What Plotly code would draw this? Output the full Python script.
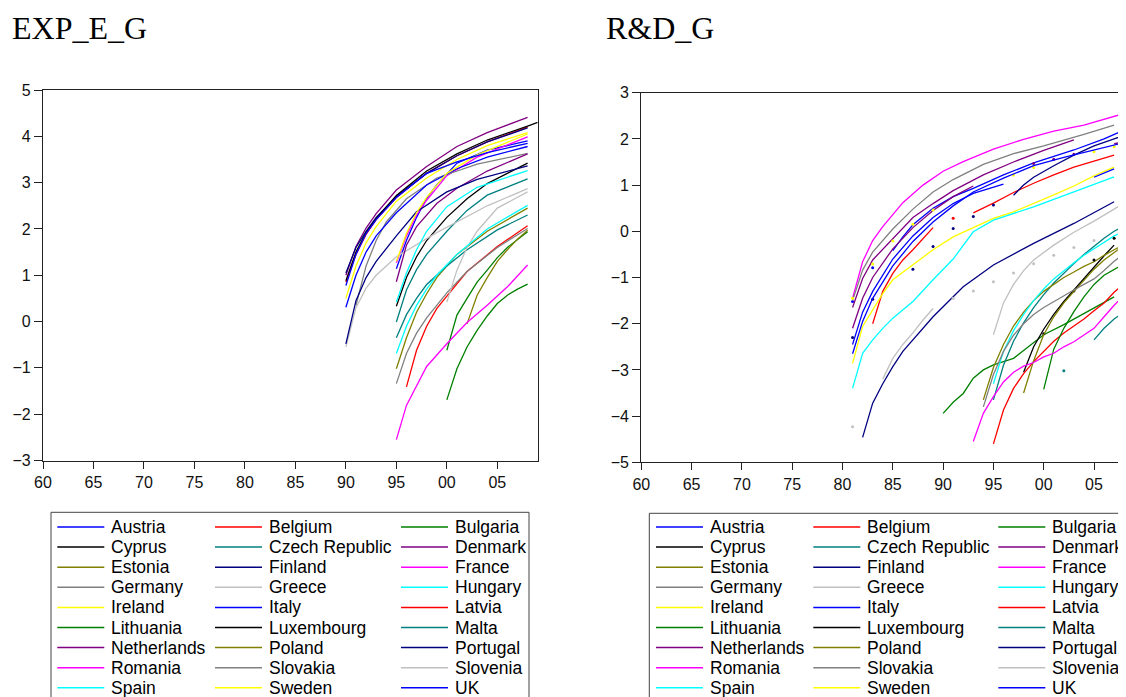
import plotly.graph_objects as go

W, H = 1126, 697

COUNTRIES = ["Austria", "Belgium", "Bulgaria", "Cyprus", "Czech Republic", "Denmark",
             "Estonia", "Finland", "France", "Germany", "Greece", "Hungary",
             "Ireland", "Italy", "Latvia", "Lithuania", "Luxembourg", "Malta",
             "Netherlands", "Poland", "Portugal", "Romania", "Slovakia", "Slovenia",
             "Spain", "Sweden", "UK"]

COLORS = ["#0000FF", "#FF0000", "#008000", "#000000", "#008080", "#800080",
          "#808000", "#000080", "#FF00FF", "#808080", "#C0C0C0", "#00FFFF",
          "#FFFF00", "#0000FF", "#FF0000", "#008000", "#000000", "#008080",
          "#800080", "#808000", "#000080", "#FF00FF", "#808080", "#C0C0C0",
          "#00FFFF", "#FFFF00", "#0000FF"]

X_TICKS = [1960, 1965, 1970, 1975, 1980, 1985, 1990, 1995, 2000, 2005]
X_TICKTEXT = ["60", "65", "70", "75", "80", "85", "90", "95", "00", "05"]

# ---------------- EXP_E_G (left panel) ----------------
EXP_X = [
    [1995, 1996, 1997, 1998, 1999, 2001, 2004, 2008],                      # Austria
    [1990, 1991, 1992, 1993, 1995, 1998, 2001, 2004, 2008],                # Belgium
    [2000, 2001, 2002, 2003, 2004, 2005, 2006, 2007, 2008],                # Bulgaria
    [1995, 1996, 1997, 1998, 2000, 2002, 2004, 2008],                      # Cyprus
    [1995, 1996, 1997, 1998, 2000, 2002, 2004, 2008],                      # Czech Republic
    [1990, 1991, 1992, 1993, 1995, 1998, 2001, 2004, 2008],                # Denmark
    [1995, 1996, 1997, 1998, 1999, 2001, 2004, 2008],                      # Estonia
    [1990, 1991, 1992, 1993, 1995, 1998, 2001, 2004, 2008],                # Finland
    [1995, 1996, 1997, 1998, 2000, 2003, 2008],                            # France
    [1991, 1992, 1993, 1994, 1996, 1999, 2003, 2008],                      # Germany
    [1990, 1991, 1992, 1993, 1995, 1999, 2004, 2008],                      # Greece
    [1995, 1996, 1997, 1998, 2000, 2003, 2008],                            # Hungary
    [1990, 1991, 1992, 1993, 1995, 1998, 2001, 2004, 2008],                # Ireland
    [1990, 1991, 1992, 1993, 1995, 1998, 2001, 2004, 2008],                # Italy
    [1996, 1997, 1998, 1999, 2000, 2002, 2005, 2008],                      # Latvia
    [2000, 2001, 2002, 2003, 2004, 2005, 2006, 2008],                      # Lithuania
    [1990, 1991, 1992, 1993, 1995, 1998, 2001, 2004, 2008, 2009],          # Luxembourg
    [1995, 1996, 1997, 1998, 2000, 2002, 2005, 2008],                      # Malta
    [1995, 1996, 1997, 1999, 2001, 2004, 2008],                            # Netherlands
    [2002, 2003, 2004, 2005, 2006, 2007, 2008],                            # Poland
    [1990, 1991, 1992, 1993, 1995, 1997, 2000, 2003, 2008],                # Portugal
    [1995, 1996, 1998, 2000, 2002, 2004, 2006, 2008],                      # Romania
    [1995, 1996, 1997, 1998, 2000, 2002, 2005, 2008],                      # Slovakia
    [2000, 2001, 2002, 2003, 2005, 2008],                                  # Slovenia
    [1995, 1996, 1997, 1998, 1999, 2001, 2004, 2008],                      # Spain
    [1995, 1996, 1997, 1998, 2000, 2003, 2008],                            # Sweden
    [1990, 1991, 1992, 1993, 1995, 1998, 2001, 2004, 2008],                # UK
]
EXP_Y = [
    [1.14, 1.75, 2.25, 2.66, 2.95, 3.42, 3.70, 3.90],
    [0.85, 1.45, 1.88, 2.20, 2.68, 3.20, 3.58, 3.88, 4.20],
    [-1.69, -1.02, -0.55, -0.19, 0.12, 0.39, 0.57, 0.70, 0.81],
    [0.33, 0.95, 1.40, 1.75, 2.25, 2.65, 2.98, 3.42],
    [-0.01, 0.68, 1.12, 1.45, 1.95, 2.40, 2.73, 3.08],
    [1.00, 1.62, 2.02, 2.33, 2.84, 3.35, 3.78, 4.08, 4.41],
    [-1.02, -0.35, 0.20, 0.60, 0.95, 1.45, 1.95, 2.45],
    [1.05, 1.60, 1.95, 2.25, 2.70, 3.20, 3.58, 3.88, 4.18],
    [1.27, 1.85, 2.30, 2.62, 3.15, 3.55, 3.99],
    [0.35, 1.20, 1.75, 2.15, 2.65, 3.10, 3.40, 3.63],
    [-0.55, 0.30, 0.72, 1.00, 1.40, 1.92, 2.50, 2.87],
    [0.42, 1.05, 1.55, 1.95, 2.48, 2.90, 3.26],
    [0.50, 1.20, 1.70, 2.05, 2.60, 3.10, 3.50, 3.80, 4.08],
    [0.31, 1.00, 1.50, 1.85, 2.35, 2.95, 3.30, 3.55, 3.78],
    [-1.41, -0.62, -0.10, 0.28, 0.55, 1.08, 1.62, 2.07],
    [-0.62, 0.14, 0.50, 0.85, 1.11, 1.38, 1.60, 1.94],
    [0.88, 1.50, 1.92, 2.22, 2.72, 3.25, 3.62, 3.92, 4.22, 4.30],
    [-0.35, 0.15, 0.50, 0.80, 1.20, 1.55, 1.98, 2.30],
    [0.86, 1.65, 2.05, 2.55, 2.88, 3.25, 3.62],
    [-0.05, 0.57, 0.95, 1.30, 1.55, 1.78, 1.97],
    [-0.48, 0.45, 0.95, 1.30, 1.85, 2.37, 2.80, 3.07, 3.36],
    [-2.55, -1.81, -0.97, -0.48, -0.02, 0.35, 0.75, 1.22],
    [-1.34, -0.69, -0.25, 0.08, 0.62, 1.08, 1.60, 2.01],
    [0.42, 1.11, 1.60, 1.95, 2.45, 2.80],
    [-0.69, -0.10, 0.35, 0.70, 1.00, 1.45, 2.00, 2.51],
    [1.30, 1.90, 2.35, 2.68, 3.20, 3.60, 4.05],
    [0.78, 1.45, 1.90, 2.20, 2.68, 3.20, 3.45, 3.65, 3.85],
]

# ---------------- R&D_G (right panel) ----------------
RD_X = [
    [1985, 1986, 1987, 1989, 1991, 1993, 1996, 1999, 2003, 2006, 2008],
    [1983, 1984, 1985, 1986, 1987, 1988, 1989, None, 1993, 1995, 1997, 1999, 2001, 2003, 2005, 2007],
    [1990, 1991, 1992, 1993, 1994, 1995, 1996, 1997, 1998, 1999, 2000, 2002, 2004, 2007],
    [1998, 1999, 2000, 2001, 2002, 2003, 2004, 2005, 2006, 2007],
    [1995, 1996, 1997, 1998, 1999, 2000, 2001, 2002, 2003, 2004, 2005, 2006, 2007, 2008],
    [1981, 1982, 1983, 1985, 1987, 1989, 1991, 1994, 1997, 2000, 2003],
    [1994, 1995, 1996, 1997, 1998, 1999, 2000, 2001, 2002, 2003, 2004, 2005, 2006, 2007, 2008],
    [1982, 1983, 1984, 1985, 1986, 1987, 1989, 1992, 1995, 1999, 2003, 2007],
    [1981, 1982, 1983, 1984, 1986, 1988, 1990, 1992, 1995, 1998, 2001, 2004, 2008],
    [1981, 1982, 1983, 1985, 1987, 1989, 1991, 1994, 1997, 2000, 2004, 2007],
    [1984, 1985, 1986, 1987, 1988, 1989],
    [1995, 1996, 1997, 1998, 1999, 2000, 2001, 2002, 2003, 2004, 2005, 2006, 2007, 2008],
    [1981, 1982, 1983, 1984, 1985, 1987, 1989, 1991, 1993, 1995, 1997, 1999, 2001, 2003, 2005, 2007],
    [1981, 1982, 1983, 1985, 1987, 1989, 1991, 1993, 1996, None, 2005, 2006, 2007],
    [1995, 1996, 1997, 1998, 1999, 2000, 2001, 2002, 2003, 2004, 2005, 2006, 2007, 2008],
    [2000, 2001, 2002, 2003, 2004, 2005, 2006, 2007, 2008],
    [],
    [2005, 2006, 2007, 2008],
    [1981, 1982, 1983, 1985, 1987, 1989, 1991, 1993, None, 2007, 2008],
    [1998, 1999, 2000, 2001, 2002, 2003, 2004, 2005, 2006, 2007, 2008],
    [1997, 1998, 1999, 2001, 2003, 2005, 2007, 2008],
    [1993, 1994, 1995, 1996, 1997, 1998, 1999, 2000, 2001, 2002, 2003, 2004, 2005, 2006, 2007, 2008],
    [1994, 1995, 1996, 1997, 1998, 1999, 2000, 2001, 2002, 2003, 2004, 2005, 2006, 2007, 2008],
    [1995, 1996, 1997, 1998, 1999, 2001, 2003, 2005, 2007, 2008],
    [1981, 1982, 1983, 1984, 1985, 1987, 1989, 1991, 1993, 1995, 1999, 2003, 2007],
    [],
    [1981, 1982, 1983, 1985, 1987, 1989, 1991, 1993, 1996, 1999, 2002, 2005, 2008],
]
RD_Y = [
    [-0.42, -0.12, 0.14, 0.50, 0.75, 0.93, 1.22, 1.48, 1.76, 2.00, 2.19],
    [-2.00, -1.30, -0.91, -0.62, -0.40, -0.15, 0.08, None, 0.40, 0.61, 0.84, 1.04, 1.22, 1.39, 1.52, 1.65],
    [-3.94, -3.70, -3.51, -3.18, -3.00, -2.89, -2.82, -2.75, -2.58, -2.42, -2.24, -2.02, -1.78, -1.42],
    [-3.05, -2.50, -2.12, -1.80, -1.52, -1.27, -1.02, -0.78, -0.53, -0.30],
    [-3.65, -2.90, -2.38, -1.98, -1.65, -1.37, -1.12, -0.90, -0.70, -0.50, -0.32, -0.15, 0.00, 0.12],
    [-1.65, -1.02, -0.62, -0.15, 0.30, 0.60, 0.88, 1.22, 1.50, 1.75, 1.98],
    [-3.65, -2.95, -2.45, -2.05, -1.75, -1.50, -1.30, -1.15, -1.00, -0.88, -0.76, -0.66, -0.52, -0.40, -0.28],
    [-4.46, -3.72, -3.30, -2.93, -2.60, -2.35, -1.85, -1.20, -0.73, -0.26, 0.17, 0.64],
    [-1.45, -0.66, -0.20, 0.10, 0.62, 1.00, 1.30, 1.51, 1.78, 1.99, 2.17, 2.30, 2.55],
    [-1.50, -0.84, -0.45, 0.05, 0.48, 0.85, 1.12, 1.45, 1.68, 1.85, 2.10, 2.30],
    [-3.20, -2.75, -2.45, -2.20, -1.92, -1.67],
    [-3.30, -2.60, -2.15, -1.80, -1.50, -1.25, -1.03, -0.85, -0.68, -0.52, -0.38, -0.23, -0.10, 0.00],
    [-2.86, -2.06, -1.70, -1.35, -1.05, -0.73, -0.40, -0.12, 0.08, 0.28, 0.42, 0.60, 0.79, 0.98, 1.20, 1.39],
    [-2.45, -1.75, -1.30, -0.60, -0.10, 0.30, 0.60, 0.82, 1.02, None, 1.17, 1.26, 1.35],
    [-4.60, -3.87, -3.40, -3.08, -2.82, -2.61, -2.38, -2.20, -2.05, -1.90, -1.72, -1.55, -1.32, -1.13],
    [-3.42, -2.55, -2.10, -1.74, -1.42, -1.15, -0.95, -0.82, -0.70],
    [],
    [-2.35, -2.10, -1.90, -1.74],
    [-2.10, -1.45, -1.00, -0.38, 0.08, 0.45, 0.75, 0.98, None, 1.90, 1.93],
    [-3.50, -2.80, -2.24, -1.85, -1.55, -1.30, -1.05, -0.82, -0.62, -0.45, -0.30],
    [0.78, 1.00, 1.17, 1.42, 1.65, 1.85, 2.00, 2.08],
    [-4.55, -3.94, -3.58, -3.26, -3.05, -2.92, -2.84, -2.72, -2.64, -2.50, -2.39, -2.25, -2.10, -1.85, -1.60, -1.38],
    [-3.80, -3.10, -2.60, -2.25, -2.00, -1.80, -1.65, -1.52, -1.40, -1.27, -1.15, -1.03, -0.85, -0.65, -0.48],
    [-2.24, -1.55, -1.15, -0.85, -0.62, -0.30, -0.02, 0.22, 0.48, 0.62],
    [-3.40, -2.64, -2.35, -2.10, -1.88, -1.52, -1.05, -0.60, -0.01, 0.24, 0.53, 0.86, 1.18],
    [],
    [-2.65, -1.95, -1.45, -0.75, -0.22, 0.20, 0.55, 0.85, 1.15, 1.42, 1.60, 1.76, 1.92],
]
# isolated observations (single points between missing years)
RD_DOT_X = [
    [1981, 1983], [1991], [], [], [], [], [], [], [], [],
    [1981, 1991, 1993, 1995, 1997, 1999, 2001, 2003, 2005], [], [], [], [], [],
    [2000, 2003, 2005, 2007], [2002], [1999, 2001, 2003], [],
    [1981, 1983, 1987, 1989, 1991, 1993, 1995], [], [], [], [],
    [1981, 1983, 1985, 1987, 1989, 1997, 1999, 2005, 2007], [],
]
RD_DOT_Y = [
    [-1.52, -0.79], [0.28], [], [], [], [], [], [], [], [],
    [-4.23, -1.45, -1.29, -1.09, -0.90, -0.70, -0.52, -0.35, -0.20], [], [], [], [], [],
    [-2.22, -1.29, -0.62, -0.15], [-3.02], [1.47, 1.56, 1.67], [],
    [-2.30, -1.47, -0.82, -0.33, 0.06, 0.32, 0.57], [], [], [], [],
    [-1.45, -0.71, -0.21, 0.15, 0.46, 1.22, 1.38, 1.72, 1.83], [],
]

# the page body adds an 8px margin around the figure; place everything in page pixels
PAGE_OFFSET = 8


def px(x):
    return (x - PAGE_OFFSET) / W


def py(y):
    return 1 - (y - PAGE_OFFSET) / H


fig = go.Figure()

for i, name in enumerate(COUNTRIES):
    fig.add_trace(go.Scatter(x=EXP_X[i], y=EXP_Y[i], mode="lines", name=name,
                             line=dict(color=COLORS[i], width=1.3),
                             showlegend=False, xaxis="x", yaxis="y", hoverinfo="skip"))

for i, name in enumerate(COUNTRIES):
    if RD_X[i]:
        fig.add_trace(go.Scatter(x=RD_X[i], y=RD_Y[i], mode="lines", name=name,
                                 line=dict(color=COLORS[i], width=1.3),
                                 showlegend=False, xaxis="x2", yaxis="y2", hoverinfo="skip"))
    if RD_DOT_X[i]:
        fig.add_trace(go.Scatter(x=RD_DOT_X[i], y=RD_DOT_Y[i], mode="markers", name=name,
                                 marker=dict(color=COLORS[i], size=3),
                                 showlegend=False, xaxis="x2", yaxis="y2", hoverinfo="skip"))

axis_font = dict(family="Arial, Liberation Sans, sans-serif", size=16, color="#111111")
common_x = dict(tickvals=X_TICKS, ticktext=X_TICKTEXT, ticks="outside", ticklen=7,
                tickwidth=1, tickcolor="#222222", showline=True, linecolor="#222222",
                linewidth=1.3, showgrid=False, zeroline=False, tickfont=axis_font,
                automargin=False)
common_y = dict(dtick=1, ticks="outside", ticklen=8, tickwidth=1, tickcolor="#222222",
                showline=True, linecolor="#222222", linewidth=1.3, showgrid=False,
                zeroline=False, tickfont=axis_font, automargin=False)

fig.update_layout(
    width=W, height=H, autosize=False,
    margin=dict(l=0, r=0, t=0, b=0, pad=0, autoexpand=False),
    showlegend=False,
    paper_bgcolor="white", plot_bgcolor="white",
    xaxis=dict(domain=[px(43), px(537.7)], range=[1960, 2009], anchor="y", mirror=True, **common_x),
    yaxis=dict(domain=[py(460.5), py(90)], range=[-3, 5], anchor="x", mirror=True, **common_y),
    xaxis2=dict(domain=[px(641.3), px(1126)], range=[1960, 2008.18], anchor="y2", mirror=True, **common_x),
    yaxis2=dict(domain=[py(462.3), py(92.7)], range=[-5, 3], anchor="x2", mirror=False, **common_y),
)

annotations = [
    dict(text="EXP_E_G", x=px(10), y=py(28), xref="paper", yref="paper",
         xanchor="left", yanchor="middle", showarrow=False,
         font=dict(family="Times New Roman, Liberation Serif, serif", size=32, color="black")),
    dict(text="R&D_G", x=px(604), y=py(28), xref="paper", yref="paper",
         xanchor="left", yanchor="middle", showarrow=False,
         font=dict(family="Times New Roman, Liberation Serif, serif", size=32, color="black")),
]
shapes = []

legend_font = dict(family="Arial, Liberation Sans, sans-serif", size=17.5, color="black")
LEGENDS = [
    dict(box=(51, 529, 512.3), cols=[57.3, 215.0, 401.0]),
    dict(box=(649.3, 1124, 513.3), cols=[656.0, 813.3, 998.3]),
]
ROW0, ROW_STEP, SAMPLE_LEN = 526.9, 20.12, 47
for lg in LEGENDS:
    x0, x1, top = lg["box"]
    shapes.append(dict(type="rect", xref="paper", yref="paper", x0=px(x0), x1=px(x1),
                       y0=py(top), y1=py(H + 40), line=dict(color="#444444", width=1),
                       fillcolor="rgba(0,0,0,0)", layer="above"))
    for i, name in enumerate(COUNTRIES):
        r, c = divmod(i, 3)
        yy = ROW0 + r * ROW_STEP
        cx = lg["cols"][c]
        shapes.append(dict(type="line", xref="paper", yref="paper", x0=px(cx), x1=px(cx + SAMPLE_LEN),
                           y0=py(yy), y1=py(yy), line=dict(color=COLORS[i], width=1.5)))
        annotations.append(dict(text=name, x=px(cx + SAMPLE_LEN + 5), y=py(yy), xref="paper",
                                yref="paper", xanchor="left", yanchor="middle", showarrow=False,
                                font=legend_font))

fig.update_layout(annotations=annotations, shapes=shapes)
fig.write_html("out.html")
